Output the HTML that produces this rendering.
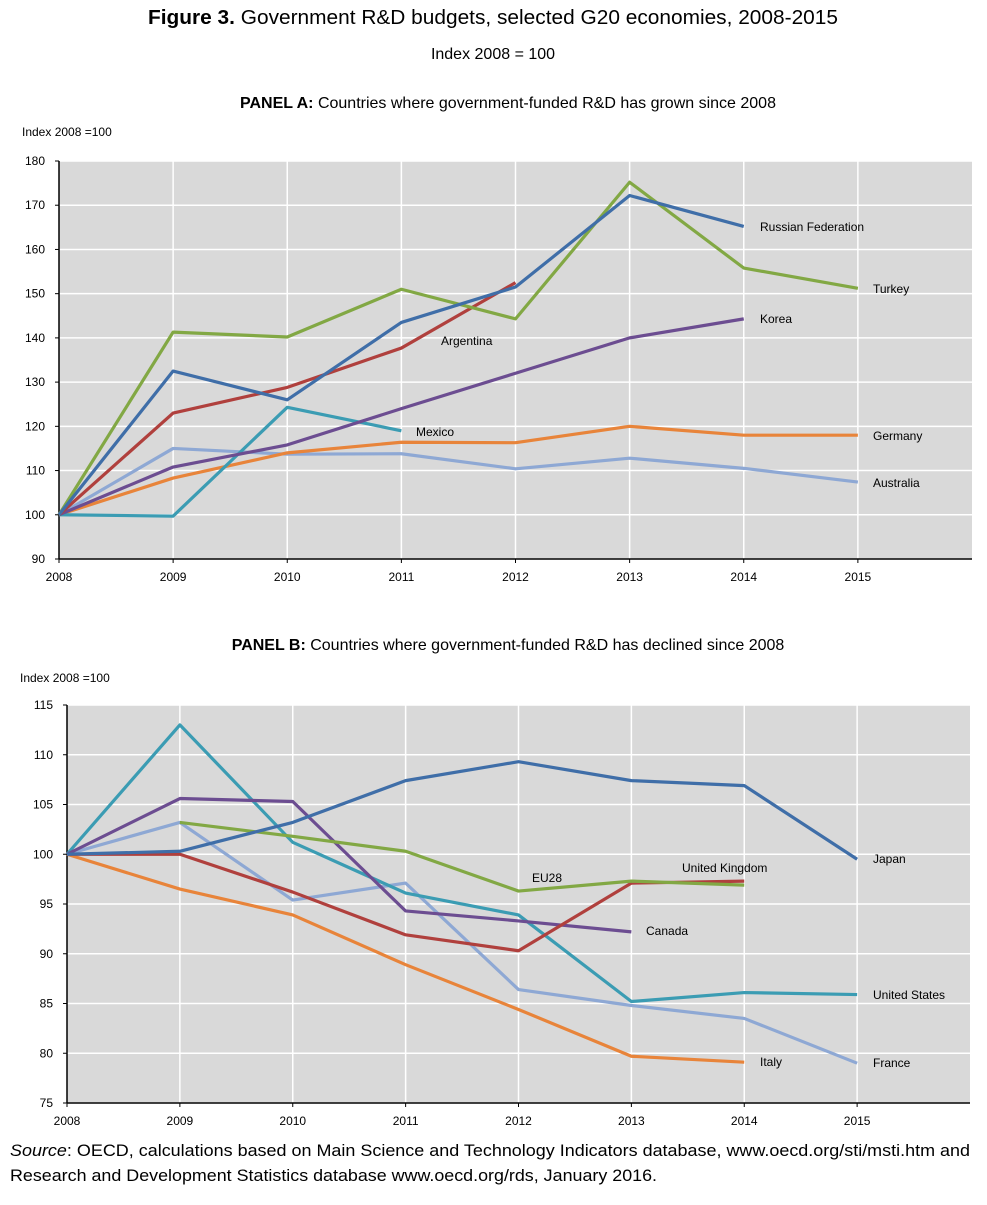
<!DOCTYPE html>
<html><head><meta charset="utf-8"><style>
body{margin:0;background:#fff;width:987px;height:1200px;overflow:hidden;font-family:"Liberation Sans",sans-serif}
svg text{font-family:"Liberation Sans",sans-serif}
</style></head><body>
<svg id="c" width="987" height="1200">
<text x="493" y="24" text-anchor="middle" font-size="20" textLength="690" lengthAdjust="spacingAndGlyphs"><tspan font-weight="bold">Figure 3.</tspan> Government R&amp;D budgets, selected G20 economies, 2008-2015</text>
<text x="493" y="59" text-anchor="middle" font-size="16">Index 2008 = 100</text>
<text x="508" y="108" text-anchor="middle" font-size="16"><tspan font-weight="bold">PANEL A:</tspan> Countries where government-funded R&amp;D has grown since 2008</text>
<text x="508" y="650" text-anchor="middle" font-size="16"><tspan font-weight="bold">PANEL B:</tspan> Countries where government-funded R&amp;D has declined since 2008</text>
<text x="22" y="136" font-size="12">Index 2008 =100</text>
<text x="20" y="682" font-size="12">Index 2008 =100</text>
<text x="10" y="1156" font-size="17" textLength="960" lengthAdjust="spacingAndGlyphs"><tspan font-style="italic">Source</tspan>: OECD, calculations based on Main Science and Technology Indicators database, www.oecd.org/sti/msti.htm and</text>
<text x="10" y="1181" font-size="17" textLength="647" lengthAdjust="spacingAndGlyphs">Research and Development Statistics database www.oecd.org/rds, January 2016.</text>
</svg>
<script>
const years=[2008,2009,2010,2011,2012,2013,2014,2015];
const ticksA=[90,100,110,120,130,140,150,160,170,180];
const ticksB=[75,80,85,90,95,100,105,110,115];
const russia=[100,132.5,126,143.5,151.5,172.2,165.2,null];
const turkey=[100,141.3,140.2,151,144.3,175.2,155.8,151.2];
const argentina=[100,123,128.8,137.7,152.5,null,null,null];
const korea=[100,110.8,115.8,124,132,140,144.3,null];
const mexico=[100,99.7,124.3,119,null,null,null,null];
const germany=[100,108.3,114,116.4,116.3,120,118,118];
const australia=[100,115,113.7,113.8,110.4,112.8,110.5,107.4];
const japan=[100,100.3,103.2,107.4,109.3,107.4,106.9,99.5];
const eu28=[null,103.2,101.8,100.3,96.3,97.3,96.9,null];
const uk=[100,100,96.2,91.9,90.3,97.1,97.3,null];
const canada=[100,105.6,105.3,94.3,93.3,92.2,null,null];
const us=[100,113,101.2,96.1,93.9,85.2,86.1,85.9];
const france=[100,103.2,95.4,97.1,86.4,84.8,83.5,79];
const italy=[100,96.5,93.9,88.9,84.4,79.7,79.1,null];
const C={blue:"#3f6ea8",green:"#82a844",red:"#b0403d",purple:"#6c4d91",teal:"#3b9cb3",orange:"#e8843a",light:"#8ea8d4"};
const svg=document.getElementById('c');const NS="http://www.w3.org/2000/svg";
function el(t,a,p){const e=document.createElementNS(NS,t);for(const k in a)e.setAttribute(k,a[k]);(p||svg).appendChild(e);return e;}
function panel(name,L,R,T,B,ymin,ymax,ticks,series){
 const g=el('g',{});
 
 
 const x=i=>L+(R-L)*i/8, y=v=>B-(v-ymin)/(ymax-ymin)*(B-T);
 const bg=el('rect',{x:L,y:T,width:R-L,height:B-T,fill:"#d9d9d9"},g);
 
 
 ticks.forEach(t=>{
  const ln=el('line',{x1:L,x2:R,y1:y(t),y2:y(t),stroke:"#fff","stroke-width":1.5},g);
  
  
  const tx=el('text',{x:L-14,y:y(t)+4,"text-anchor":"end","font-size":12},g);tx.textContent=t;
  
  
  el('line',{x1:L-4,x2:L,y1:y(t),y2:y(t),stroke:"#000"},g);
 });
 years.forEach((yr,i)=>{
  if(i>0){const ln=el('line',{x1:x(i),x2:x(i),y1:T,y2:B,stroke:"#fff","stroke-width":1.5},g);
  
  }
  el('line',{x1:x(i),x2:x(i),y1:B,y2:B+4,stroke:"#000"},g);
  const tx=el('text',{x:x(i),y:B+22,"text-anchor":"middle","font-size":12},g);tx.textContent=yr;
  
  
 });
 el('line',{x1:L,x2:L,y1:T,y2:B,stroke:"#000","stroke-width":1.5},g);
 el('line',{x1:L,x2:R,y1:B,y2:B,stroke:"#000","stroke-width":1.5},g);
 series.forEach(s=>{
  const pts=[];s.d.forEach((v,i)=>{if(v!==null)pts.push(x(i)+","+y(v));});
  const p=el('polyline',{points:pts.join(" "),fill:"none",stroke:s.c,"stroke-width":3.2,"stroke-linejoin":"round"},g);
  
  
  const t=el('text',{x:s.lx,y:s.ly,"font-size":12},g);t.textContent=s.n;
  
  
 });
}
panel('panel-a-chart',59,972,161,559,90,180,ticksA,[
 {id:'australia',n:'Australia',d:australia,c:C.light,lx:873,ly:487},
 {id:'germany',n:'Germany',d:germany,c:C.orange,lx:873,ly:440},
 {id:'mexico',n:'Mexico',d:mexico,c:C.teal,lx:416,ly:436},
 {id:'korea',n:'Korea',d:korea,c:C.purple,lx:760,ly:323},
 {id:'argentina',n:'Argentina',d:argentina,c:C.red,lx:441,ly:345},
 {id:'turkey',n:'Turkey',d:turkey,c:C.green,lx:873,ly:293},
 {id:'russia',n:'Russian Federation',d:russia,c:C.blue,lx:760,ly:231}
]);
panel('panel-b-chart',67,970,705,1103,75,115,ticksB,[
 {id:'italy',n:'Italy',d:italy,c:C.orange,lx:760,ly:1066},
 {id:'france',n:'France',d:france,c:C.light,lx:873,ly:1067},
 {id:'us',n:'United States',d:us,c:C.teal,lx:873,ly:999},
 {id:'canada',n:'Canada',d:canada,c:C.purple,lx:646,ly:935},
 {id:'uk',n:'United Kingdom',d:uk,c:C.red,lx:682,ly:872},
 {id:'eu28',n:'EU28',d:eu28,c:C.green,lx:532,ly:882},
 {id:'japan',n:'Japan',d:japan,c:C.blue,lx:873,ly:863}
]);
</script>
</body></html>
